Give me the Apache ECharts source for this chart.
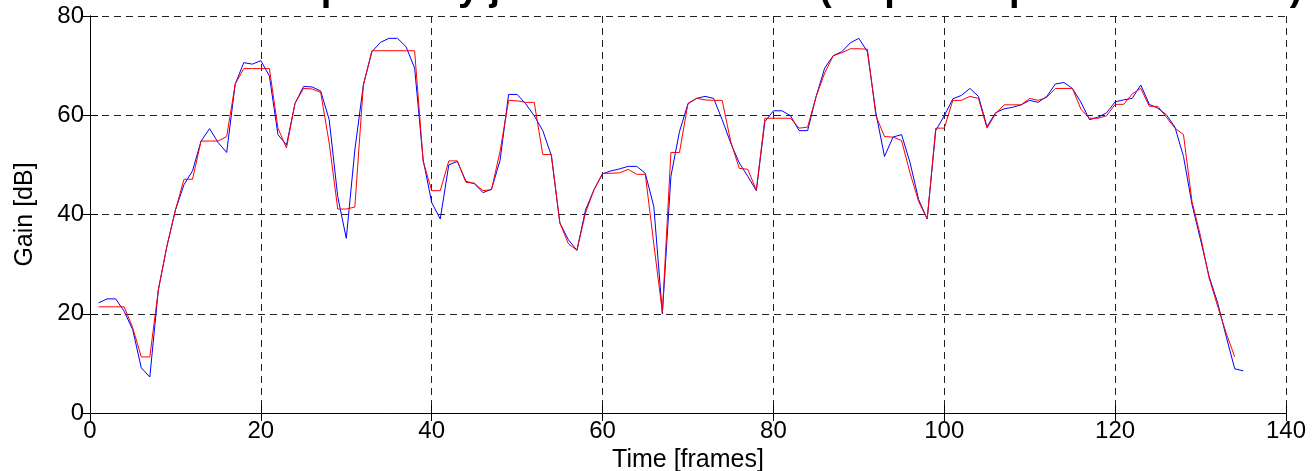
<!DOCTYPE html>
<html>
<head>
<meta charset="utf-8">
<script src="https://cdn.jsdelivr.net/npm/echarts@6/dist/echarts.min.js"></script>
<style>html,body{margin:0;padding:0;background:#fff;}#c{width:1312px;height:471px;}</style>
</head>
<body>
<div id="c"></div>
<script>
const titleText = "Gain computed by joint MMSE-STSA (20 points per frame basis)";
const xTicks = [0, 20, 40, 60, 80, 100, 120, 140];
const yTicks = [0, 20, 40, 60, 80];
const blueGain = [22.2,23.0,23.0,20.5,16.8,9.1,7.25,24.8,33.6,40.9,46.0,48.8,54.8,57.3,54.5,52.5,66.3,70.6,70.3,71.0,
67.9,56.1,54.0,62.4,65.8,65.7,64.9,59.1,43.6,35.2,53.0,66.1,72.8,74.7,75.5,75.5,73.8,69.5,51.0,42.4,
39.1,50.0,50.7,46.7,46.2,44.4,45.1,50.9,64.2,64.2,62.3,59.9,56.9,51.9,38.3,34.9,32.8,40.9,45.0,48.2,
48.8,49.2,49.7,49.7,48.3,41.6,20.0,47.7,56.7,62.3,63.4,63.8,63.4,59.1,54.4,50.4,47.7,44.8,58.7,60.9,
60.9,59.9,56.9,56.9,63.8,69.5,72.0,72.8,74.6,75.5,72.8,60.4,51.7,55.6,56.1,50.4,43.0,39.1,56.9,59.9,
63.3,64.0,65.4,63.8,57.7,60.5,61.3,61.6,62.1,63.0,62.6,63.8,66.3,66.6,65.4,62.6,59.1,59.6,60.5,62.7,
63.1,63.4,66.1,62.2,61.4,60.1,57.6,51.7,42.0,34.9,27.5,22.2,15.4,8.9,8.5];
const redGain = [21.4,21.4,21.4,21.4,17.2,11.3,11.3,24.8,33.6,40.9,47.1,47.1,54.8,54.8,54.8,55.7,66.3,69.4,69.4,69.4,
69.4,57.4,53.4,62.4,65.4,65.3,64.6,54.4,41.1,41.1,41.5,66.1,73.0,73.0,73.0,73.0,73.0,73.0,50.7,44.8,
44.8,50.8,50.8,46.5,46.3,44.8,45.0,52.7,63.0,62.9,62.6,62.6,52.1,52.1,38.3,34.1,32.8,40.3,45.0,48.3,
48.3,48.4,49.1,48.1,48.1,34.0,20.3,52.5,52.5,62.4,63.4,63.1,63.0,63.0,54.7,49.3,49.1,44.9,59.4,59.4,
59.4,59.4,57.4,57.6,63.8,68.5,72.0,72.6,73.4,73.4,73.3,59.9,55.7,55.6,54.9,48.3,42.6,39.1,57.4,57.4,
63.0,63.0,63.8,63.4,57.4,60.3,62.1,62.1,62.1,63.4,63.0,63.6,65.4,65.4,65.4,61.2,59.4,59.4,59.9,62.2,
62.2,64.3,65.4,61.8,61.8,59.6,57.4,56.1,42.6,35.6,27.2,21.5,16.1,11.3];

const bluePts = blueGain.map((v, i) => [i + 1, v]);
const redPts = redGain.map((v, i) => [i + 1, v]);

const font = "Liberation Sans, Arial, sans-serif";
const gridLine = {show: true, lineStyle: {color: '#222', width: 1, type: [7, 5]}};
const chart = echarts.init(document.getElementById('c'), null, {renderer: 'canvas'});
chart.setOption({
  animation: false,
  backgroundColor: '#fff',
  title: {
    text: titleText, left: 720, top: -34, textAlign: 'center',
    textStyle: {fontFamily: font, fontSize: 38, fontWeight: 'bold', color: '#000'}
  },
  grid: {left: 90, right: 26, top: 16, bottom: 58, containLabel: false, outerBoundsMode: 'none'},
  xAxis: [{
    type: 'value', min: xTicks[0], max: xTicks[xTicks.length - 1], interval: 20,
    name: 'Time [frames]', nameLocation: 'middle', nameGap: 31,
    nameTextStyle: {fontFamily: font, fontSize: 25, color: '#000'},
    axisLine: {show: true, lineStyle: {color: '#000', width: 1}},
    axisTick: {show: true, inside: true, length: 8, lineStyle: {color: '#000'}},
    axisLabel: {fontFamily: font, fontSize: 24, color: '#000', margin: 6},
    splitLine: gridLine
  }, {
    type: 'value', position: 'top', min: 0, max: 140, interval: 20,
    axisLine: {show: true, lineStyle: {color: '#000', width: 1}},
    axisTick: {show: true, inside: true, length: 8, lineStyle: {color: '#000'}},
    axisLabel: {show: false}, splitLine: {show: false}
  }],
  yAxis: [{
    type: 'value', min: yTicks[0], max: yTicks[yTicks.length - 1], interval: 20,
    name: 'Gain [dB]', nameLocation: 'middle', nameGap: 52, nameRotate: 90,
    nameTextStyle: {fontFamily: font, fontSize: 25, color: '#000'},
    axisLine: {show: true, lineStyle: {color: '#000', width: 1}},
    axisTick: {show: true, inside: true, length: 8, lineStyle: {color: '#000'}},
    axisLabel: {fontFamily: font, fontSize: 24, color: '#000', margin: 6},
    splitLine: gridLine
  }, {
    type: 'value', position: 'right', min: 0, max: 80, interval: 20,
    axisLine: {show: true, lineStyle: {color: '#000', width: 1}},
    axisTick: {show: true, inside: true, length: 8, lineStyle: {color: '#000'}},
    axisLabel: {show: false}, splitLine: {show: false}
  }],
  series: [{
    type: 'line', data: bluePts, xAxisIndex: 0, yAxisIndex: 0, symbol: 'none',
    lineStyle: {color: '#0000ff', width: 1}, itemStyle: {color: '#0000ff'}
  }, {
    type: 'line', data: redPts, xAxisIndex: 0, yAxisIndex: 0, symbol: 'none',
    lineStyle: {color: '#ff0000', width: 1}, itemStyle: {color: '#ff0000'}
  }]
});
</script>
</body>
</html>
